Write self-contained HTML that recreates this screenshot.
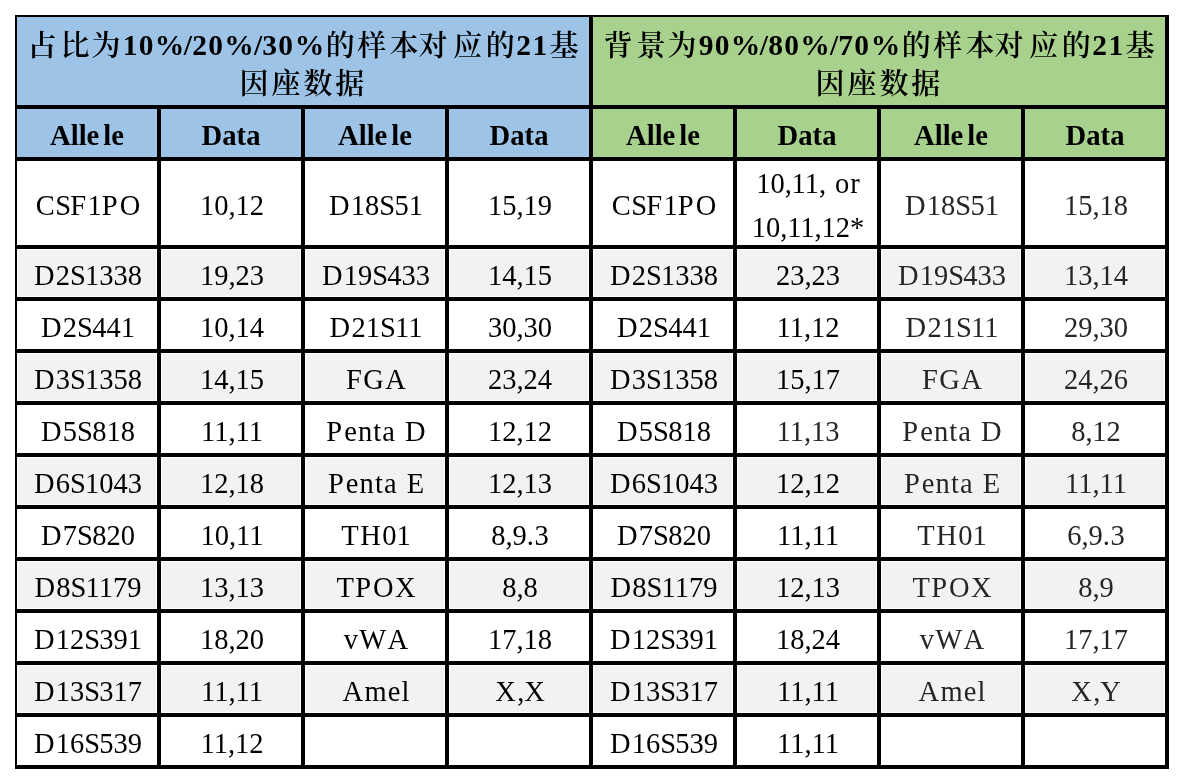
<!DOCTYPE html>
<html><head><meta charset="utf-8"><style>
*{margin:0;padding:0;box-sizing:border-box}
html,body{width:1184px;height:784px;background:#fff;overflow:hidden}
body{position:relative;font-family:"Liberation Serif","Noto Serif CJK SC",serif;color:#000}
.bg,.ln{position:absolute}
.ln{background:#000}
.tc,.tl{position:absolute;text-align:center;line-height:40px;height:40px;white-space:nowrap}
.tc{font-family:"Noto Serif CJK SC",serif;font-size:29px;font-weight:600}
.tl{font-family:"Liberation Serif",serif;font-size:29.5px;font-weight:bold}
.cell{position:absolute;display:flex;align-items:center;justify-content:center;text-align:center;font-size:28.5px;line-height:40px;white-space:pre;padding-top:6px;padding-left:2px}
i{font-style:normal}
.cell.gr{color:#262626}
.cell.two span{line-height:44px}
.hd{font-weight:bold;font-size:28.7px;padding-top:4px;padding-left:0}
.hd .g{margin-left:4px}
</style></head>
<body>
<div class="bg" style="left:17px;top:15px;width:572px;height:142px;background:#9DC3E6"></div>
<div class="bg" style="left:593px;top:15px;width:572px;height:142px;background:#A9D18E"></div>
<div class="bg" style="left:18px;top:250px;width:138px;height:46px;background:#F2F2F2"></div>
<div class="bg" style="left:162px;top:250px;width:138px;height:46px;background:#F2F2F2"></div>
<div class="bg" style="left:306px;top:250px;width:138px;height:46px;background:#F2F2F2"></div>
<div class="bg" style="left:450px;top:250px;width:138px;height:46px;background:#F2F2F2"></div>
<div class="bg" style="left:594px;top:250px;width:138px;height:46px;background:#F2F2F2"></div>
<div class="bg" style="left:738px;top:250px;width:138px;height:46px;background:#F2F2F2"></div>
<div class="bg" style="left:882px;top:250px;width:138px;height:46px;background:#F2F2F2"></div>
<div class="bg" style="left:1026px;top:250px;width:138px;height:46px;background:#F2F2F2"></div>
<div class="bg" style="left:18px;top:354px;width:138px;height:46px;background:#F2F2F2"></div>
<div class="bg" style="left:162px;top:354px;width:138px;height:46px;background:#F2F2F2"></div>
<div class="bg" style="left:306px;top:354px;width:138px;height:46px;background:#F2F2F2"></div>
<div class="bg" style="left:450px;top:354px;width:138px;height:46px;background:#F2F2F2"></div>
<div class="bg" style="left:594px;top:354px;width:138px;height:46px;background:#F2F2F2"></div>
<div class="bg" style="left:738px;top:354px;width:138px;height:46px;background:#F2F2F2"></div>
<div class="bg" style="left:882px;top:354px;width:138px;height:46px;background:#F2F2F2"></div>
<div class="bg" style="left:1026px;top:354px;width:138px;height:46px;background:#F2F2F2"></div>
<div class="bg" style="left:18px;top:458px;width:138px;height:46px;background:#F2F2F2"></div>
<div class="bg" style="left:162px;top:458px;width:138px;height:46px;background:#F2F2F2"></div>
<div class="bg" style="left:306px;top:458px;width:138px;height:46px;background:#F2F2F2"></div>
<div class="bg" style="left:450px;top:458px;width:138px;height:46px;background:#F2F2F2"></div>
<div class="bg" style="left:594px;top:458px;width:138px;height:46px;background:#F2F2F2"></div>
<div class="bg" style="left:738px;top:458px;width:138px;height:46px;background:#F2F2F2"></div>
<div class="bg" style="left:882px;top:458px;width:138px;height:46px;background:#F2F2F2"></div>
<div class="bg" style="left:1026px;top:458px;width:138px;height:46px;background:#F2F2F2"></div>
<div class="bg" style="left:18px;top:562px;width:138px;height:46px;background:#F2F2F2"></div>
<div class="bg" style="left:162px;top:562px;width:138px;height:46px;background:#F2F2F2"></div>
<div class="bg" style="left:306px;top:562px;width:138px;height:46px;background:#F2F2F2"></div>
<div class="bg" style="left:450px;top:562px;width:138px;height:46px;background:#F2F2F2"></div>
<div class="bg" style="left:594px;top:562px;width:138px;height:46px;background:#F2F2F2"></div>
<div class="bg" style="left:738px;top:562px;width:138px;height:46px;background:#F2F2F2"></div>
<div class="bg" style="left:882px;top:562px;width:138px;height:46px;background:#F2F2F2"></div>
<div class="bg" style="left:1026px;top:562px;width:138px;height:46px;background:#F2F2F2"></div>
<div class="bg" style="left:18px;top:666px;width:138px;height:46px;background:#F2F2F2"></div>
<div class="bg" style="left:162px;top:666px;width:138px;height:46px;background:#F2F2F2"></div>
<div class="bg" style="left:306px;top:666px;width:138px;height:46px;background:#F2F2F2"></div>
<div class="bg" style="left:450px;top:666px;width:138px;height:46px;background:#F2F2F2"></div>
<div class="bg" style="left:594px;top:666px;width:138px;height:46px;background:#F2F2F2"></div>
<div class="bg" style="left:738px;top:666px;width:138px;height:46px;background:#F2F2F2"></div>
<div class="bg" style="left:882px;top:666px;width:138px;height:46px;background:#F2F2F2"></div>
<div class="bg" style="left:1026px;top:666px;width:138px;height:46px;background:#F2F2F2"></div>
<div class="ln" style="left:15px;top:15px;width:1154px;height:2px"></div>
<div class="ln" style="left:15px;top:105px;width:1154px;height:4px"></div>
<div class="ln" style="left:15px;top:157px;width:1154px;height:4px"></div>
<div class="ln" style="left:15px;top:245px;width:1154px;height:4px"></div>
<div class="ln" style="left:15px;top:297px;width:1154px;height:4px"></div>
<div class="ln" style="left:15px;top:349px;width:1154px;height:4px"></div>
<div class="ln" style="left:15px;top:401px;width:1154px;height:4px"></div>
<div class="ln" style="left:15px;top:453px;width:1154px;height:4px"></div>
<div class="ln" style="left:15px;top:505px;width:1154px;height:4px"></div>
<div class="ln" style="left:15px;top:557px;width:1154px;height:4px"></div>
<div class="ln" style="left:15px;top:609px;width:1154px;height:4px"></div>
<div class="ln" style="left:15px;top:661px;width:1154px;height:4px"></div>
<div class="ln" style="left:15px;top:713px;width:1154px;height:4px"></div>
<div class="ln" style="left:15px;top:765px;width:1154px;height:4px"></div>
<div class="ln" style="left:15px;top:15px;width:2px;height:754px"></div>
<div class="ln" style="left:157px;top:105px;width:4px;height:664px"></div>
<div class="ln" style="left:301px;top:105px;width:4px;height:664px"></div>
<div class="ln" style="left:445px;top:105px;width:4px;height:664px"></div>
<div class="ln" style="left:589px;top:15px;width:4px;height:754px"></div>
<div class="ln" style="left:733px;top:105px;width:4px;height:664px"></div>
<div class="ln" style="left:877px;top:105px;width:4px;height:664px"></div>
<div class="ln" style="left:1021px;top:105px;width:4px;height:664px"></div>
<div class="ln" style="left:1165px;top:15px;width:4px;height:754px"></div>
<span class="tc" style="left:22.1px;top:24px;width:40px">占</span>
<span class="tc" style="left:55.0px;top:24px;width:40px">比</span>
<span class="tc" style="left:86.1px;top:24px;width:40px">为</span>
<span class="tl" style="left:110.1px;top:25px;width:40px">1</span>
<span class="tl" style="left:126.0px;top:25px;width:40px">0</span>
<span class="tl" style="left:149.6px;top:25px;width:40px">%</span>
<span class="tl" style="left:167.9px;top:25px;width:40px">/</span>
<span class="tl" style="left:179.7px;top:25px;width:40px">2</span>
<span class="tl" style="left:195.5px;top:25px;width:40px">0</span>
<span class="tl" style="left:219.0px;top:25px;width:40px">%</span>
<span class="tl" style="left:238.2px;top:25px;width:40px">/</span>
<span class="tl" style="left:249.7px;top:25px;width:40px">3</span>
<span class="tl" style="left:265.5px;top:25px;width:40px">0</span>
<span class="tl" style="left:289.6px;top:25px;width:40px">%</span>
<span class="tc" style="left:320.3px;top:24px;width:40px">的</span>
<span class="tc" style="left:351.7px;top:24px;width:40px">样</span>
<span class="tc" style="left:384.0px;top:24px;width:40px">本</span>
<span class="tc" style="left:413.0px;top:24px;width:40px">对</span>
<span class="tc" style="left:447.8px;top:24px;width:40px">应</span>
<span class="tc" style="left:480.2px;top:24px;width:40px">的</span>
<span class="tl" style="left:503.5px;top:25px;width:40px">2</span>
<span class="tl" style="left:519.8px;top:25px;width:40px">1</span>
<span class="tc" style="left:544.1px;top:24px;width:40px">基</span>
<span class="tc" style="left:234.0px;top:62px;width:40px">因</span>
<span class="tc" style="left:266.0px;top:62px;width:40px">座</span>
<span class="tc" style="left:298.0px;top:62px;width:40px">数</span>
<span class="tc" style="left:329.7px;top:62px;width:40px">据</span>
<span class="tc" style="left:598.1px;top:24px;width:40px">背</span>
<span class="tc" style="left:631.0px;top:24px;width:40px">景</span>
<span class="tc" style="left:662.1px;top:24px;width:40px">为</span>
<span class="tl" style="left:686.1px;top:25px;width:40px">9</span>
<span class="tl" style="left:702.0px;top:25px;width:40px">0</span>
<span class="tl" style="left:725.6px;top:25px;width:40px">%</span>
<span class="tl" style="left:743.9px;top:25px;width:40px">/</span>
<span class="tl" style="left:755.7px;top:25px;width:40px">8</span>
<span class="tl" style="left:771.5px;top:25px;width:40px">0</span>
<span class="tl" style="left:795.0px;top:25px;width:40px">%</span>
<span class="tl" style="left:814.2px;top:25px;width:40px">/</span>
<span class="tl" style="left:825.7px;top:25px;width:40px">7</span>
<span class="tl" style="left:841.5px;top:25px;width:40px">0</span>
<span class="tl" style="left:865.6px;top:25px;width:40px">%</span>
<span class="tc" style="left:896.3px;top:24px;width:40px">的</span>
<span class="tc" style="left:927.7px;top:24px;width:40px">样</span>
<span class="tc" style="left:960.0px;top:24px;width:40px">本</span>
<span class="tc" style="left:989.0px;top:24px;width:40px">对</span>
<span class="tc" style="left:1023.8px;top:24px;width:40px">应</span>
<span class="tc" style="left:1056.2px;top:24px;width:40px">的</span>
<span class="tl" style="left:1079.5px;top:25px;width:40px">2</span>
<span class="tl" style="left:1095.8px;top:25px;width:40px">1</span>
<span class="tc" style="left:1120.1px;top:24px;width:40px">基</span>
<span class="tc" style="left:810.0px;top:62px;width:40px">因</span>
<span class="tc" style="left:842.0px;top:62px;width:40px">座</span>
<span class="tc" style="left:874.0px;top:62px;width:40px">数</span>
<span class="tc" style="left:905.7px;top:62px;width:40px">据</span>
<div class="cell hd" style="left:17px;top:109px;width:140px;height:48px"><span>Alle<span class="g">l</span>e</span></div>
<div class="cell hd" style="left:161px;top:109px;width:140px;height:48px"><span>Data</span></div>
<div class="cell hd" style="left:305px;top:109px;width:140px;height:48px"><span>Alle<span class="g">l</span>e</span></div>
<div class="cell hd" style="left:449px;top:109px;width:140px;height:48px"><span>Data</span></div>
<div class="cell hd" style="left:593px;top:109px;width:140px;height:48px"><span>Alle<span class="g">l</span>e</span></div>
<div class="cell hd" style="left:737px;top:109px;width:140px;height:48px"><span>Data</span></div>
<div class="cell hd" style="left:881px;top:109px;width:140px;height:48px"><span>Alle<span class="g">l</span>e</span></div>
<div class="cell hd" style="left:1025px;top:109px;width:140px;height:48px"><span>Data</span></div>
<div class="cell" style="left:17px;top:161px;width:140px;height:84px"><span><i style="letter-spacing:0.6px">C</i><i style="letter-spacing:-0.8px">S</i><i style="letter-spacing:1.4px">F</i>1<i style="letter-spacing:2.0px">P</i>O</span></div>
<div class="cell" style="left:161px;top:161px;width:140px;height:84px"><span>10<i style="letter-spacing:-0.2px">,</i>12</span></div>
<div class="cell" style="left:305px;top:161px;width:140px;height:84px"><span><i style="letter-spacing:1.2px">D</i>18<i style="letter-spacing:-0.8px">S</i>51</span></div>
<div class="cell" style="left:449px;top:161px;width:140px;height:84px"><span>15<i style="letter-spacing:-0.2px">,</i>19</span></div>
<div class="cell" style="left:593px;top:161px;width:140px;height:84px"><span><i style="letter-spacing:0.6px">C</i><i style="letter-spacing:-0.8px">S</i><i style="letter-spacing:1.4px">F</i>1<i style="letter-spacing:2.0px">P</i>O</span></div>
<div class="cell two" style="left:737px;top:161px;width:140px;height:84px"><span>10<i style="letter-spacing:-0.2px">,</i>11<i style="letter-spacing:-0.2px">,</i><i style="letter-spacing:1.8px"> </i><i style="letter-spacing:1.1px">o</i>r<br>10<i style="letter-spacing:-0.2px">,</i>11<i style="letter-spacing:-0.2px">,</i>12*</span></div>
<div class="cell gr" style="left:881px;top:161px;width:140px;height:84px"><span><i style="letter-spacing:1.2px">D</i>18<i style="letter-spacing:-0.8px">S</i>51</span></div>
<div class="cell gr" style="left:1025px;top:161px;width:140px;height:84px"><span>15<i style="letter-spacing:-0.2px">,</i>18</span></div>
<div class="cell" style="left:17px;top:249px;width:140px;height:48px"><span><i style="letter-spacing:1.2px">D</i>2<i style="letter-spacing:-0.8px">S</i>1338</span></div>
<div class="cell" style="left:161px;top:249px;width:140px;height:48px"><span>19<i style="letter-spacing:-0.2px">,</i>23</span></div>
<div class="cell" style="left:305px;top:249px;width:140px;height:48px"><span><i style="letter-spacing:1.2px">D</i>19<i style="letter-spacing:-0.8px">S</i>433</span></div>
<div class="cell" style="left:449px;top:249px;width:140px;height:48px"><span>14<i style="letter-spacing:-0.2px">,</i>15</span></div>
<div class="cell" style="left:593px;top:249px;width:140px;height:48px"><span><i style="letter-spacing:1.2px">D</i>2<i style="letter-spacing:-0.8px">S</i>1338</span></div>
<div class="cell" style="left:737px;top:249px;width:140px;height:48px"><span>23<i style="letter-spacing:-0.2px">,</i>23</span></div>
<div class="cell gr" style="left:881px;top:249px;width:140px;height:48px"><span><i style="letter-spacing:1.2px">D</i>19<i style="letter-spacing:-0.8px">S</i>433</span></div>
<div class="cell gr" style="left:1025px;top:249px;width:140px;height:48px"><span>13<i style="letter-spacing:-0.2px">,</i>14</span></div>
<div class="cell" style="left:17px;top:301px;width:140px;height:48px"><span><i style="letter-spacing:1.2px">D</i>2<i style="letter-spacing:-0.8px">S</i>441</span></div>
<div class="cell" style="left:161px;top:301px;width:140px;height:48px"><span>10<i style="letter-spacing:-0.2px">,</i>14</span></div>
<div class="cell" style="left:305px;top:301px;width:140px;height:48px"><span><i style="letter-spacing:1.2px">D</i>21<i style="letter-spacing:-0.8px">S</i>11</span></div>
<div class="cell" style="left:449px;top:301px;width:140px;height:48px"><span>30<i style="letter-spacing:-0.2px">,</i>30</span></div>
<div class="cell" style="left:593px;top:301px;width:140px;height:48px"><span><i style="letter-spacing:1.2px">D</i>2<i style="letter-spacing:-0.8px">S</i>441</span></div>
<div class="cell" style="left:737px;top:301px;width:140px;height:48px"><span>11<i style="letter-spacing:-0.2px">,</i>12</span></div>
<div class="cell gr" style="left:881px;top:301px;width:140px;height:48px"><span><i style="letter-spacing:1.2px">D</i>21<i style="letter-spacing:-0.8px">S</i>11</span></div>
<div class="cell gr" style="left:1025px;top:301px;width:140px;height:48px"><span>29<i style="letter-spacing:-0.2px">,</i>30</span></div>
<div class="cell" style="left:17px;top:353px;width:140px;height:48px"><span><i style="letter-spacing:1.2px">D</i>3<i style="letter-spacing:-0.8px">S</i>1358</span></div>
<div class="cell" style="left:161px;top:353px;width:140px;height:48px"><span>14<i style="letter-spacing:-0.2px">,</i>15</span></div>
<div class="cell" style="left:305px;top:353px;width:140px;height:48px"><span><i style="letter-spacing:1.4px">F</i><i style="letter-spacing:1.4px">G</i>A</span></div>
<div class="cell" style="left:449px;top:353px;width:140px;height:48px"><span>23<i style="letter-spacing:-0.2px">,</i>24</span></div>
<div class="cell" style="left:593px;top:353px;width:140px;height:48px"><span><i style="letter-spacing:1.2px">D</i>3<i style="letter-spacing:-0.8px">S</i>1358</span></div>
<div class="cell" style="left:737px;top:353px;width:140px;height:48px"><span>15<i style="letter-spacing:-0.2px">,</i>17</span></div>
<div class="cell gr" style="left:881px;top:353px;width:140px;height:48px"><span><i style="letter-spacing:1.4px">F</i><i style="letter-spacing:1.4px">G</i>A</span></div>
<div class="cell gr" style="left:1025px;top:353px;width:140px;height:48px"><span>24<i style="letter-spacing:-0.2px">,</i>26</span></div>
<div class="cell" style="left:17px;top:405px;width:140px;height:48px"><span><i style="letter-spacing:1.2px">D</i>5<i style="letter-spacing:-0.8px">S</i>818</span></div>
<div class="cell" style="left:161px;top:405px;width:140px;height:48px"><span>11<i style="letter-spacing:-0.2px">,</i>11</span></div>
<div class="cell" style="left:305px;top:405px;width:140px;height:48px"><span><i style="letter-spacing:2.0px">P</i><i style="letter-spacing:1.1px">e</i><i style="letter-spacing:1.1px">n</i><i style="letter-spacing:1.1px">t</i><i style="letter-spacing:1.1px">a</i><i style="letter-spacing:1.8px"> </i>D</span></div>
<div class="cell" style="left:449px;top:405px;width:140px;height:48px"><span>12<i style="letter-spacing:-0.2px">,</i>12</span></div>
<div class="cell" style="left:593px;top:405px;width:140px;height:48px"><span><i style="letter-spacing:1.2px">D</i>5<i style="letter-spacing:-0.8px">S</i>818</span></div>
<div class="cell gr" style="left:737px;top:405px;width:140px;height:48px"><span>11<i style="letter-spacing:-0.2px">,</i>13</span></div>
<div class="cell gr" style="left:881px;top:405px;width:140px;height:48px"><span><i style="letter-spacing:2.0px">P</i><i style="letter-spacing:1.1px">e</i><i style="letter-spacing:1.1px">n</i><i style="letter-spacing:1.1px">t</i><i style="letter-spacing:1.1px">a</i><i style="letter-spacing:1.8px"> </i>D</span></div>
<div class="cell gr" style="left:1025px;top:405px;width:140px;height:48px"><span>8<i style="letter-spacing:-0.2px">,</i>12</span></div>
<div class="cell" style="left:17px;top:457px;width:140px;height:48px"><span><i style="letter-spacing:1.2px">D</i>6<i style="letter-spacing:-0.8px">S</i>1043</span></div>
<div class="cell" style="left:161px;top:457px;width:140px;height:48px"><span>12<i style="letter-spacing:-0.2px">,</i>18</span></div>
<div class="cell" style="left:305px;top:457px;width:140px;height:48px"><span><i style="letter-spacing:2.0px">P</i><i style="letter-spacing:1.1px">e</i><i style="letter-spacing:1.1px">n</i><i style="letter-spacing:1.1px">t</i><i style="letter-spacing:1.1px">a</i><i style="letter-spacing:1.8px"> </i>E</span></div>
<div class="cell" style="left:449px;top:457px;width:140px;height:48px"><span>12<i style="letter-spacing:-0.2px">,</i>13</span></div>
<div class="cell" style="left:593px;top:457px;width:140px;height:48px"><span><i style="letter-spacing:1.2px">D</i>6<i style="letter-spacing:-0.8px">S</i>1043</span></div>
<div class="cell" style="left:737px;top:457px;width:140px;height:48px"><span>12<i style="letter-spacing:-0.2px">,</i>12</span></div>
<div class="cell gr" style="left:881px;top:457px;width:140px;height:48px"><span><i style="letter-spacing:2.0px">P</i><i style="letter-spacing:1.1px">e</i><i style="letter-spacing:1.1px">n</i><i style="letter-spacing:1.1px">t</i><i style="letter-spacing:1.1px">a</i><i style="letter-spacing:1.8px"> </i>E</span></div>
<div class="cell gr" style="left:1025px;top:457px;width:140px;height:48px"><span>11<i style="letter-spacing:-0.2px">,</i>11</span></div>
<div class="cell" style="left:17px;top:509px;width:140px;height:48px"><span><i style="letter-spacing:1.2px">D</i>7<i style="letter-spacing:-0.8px">S</i>820</span></div>
<div class="cell" style="left:161px;top:509px;width:140px;height:48px"><span>10<i style="letter-spacing:-0.2px">,</i>11</span></div>
<div class="cell" style="left:305px;top:509px;width:140px;height:48px"><span><i style="letter-spacing:1.4px">T</i><i style="letter-spacing:1.4px">H</i>01</span></div>
<div class="cell" style="left:449px;top:509px;width:140px;height:48px"><span>8<i style="letter-spacing:-0.2px">,</i>9<i style="letter-spacing:0.5px">.</i>3</span></div>
<div class="cell" style="left:593px;top:509px;width:140px;height:48px"><span><i style="letter-spacing:1.2px">D</i>7<i style="letter-spacing:-0.8px">S</i>820</span></div>
<div class="cell" style="left:737px;top:509px;width:140px;height:48px"><span>11<i style="letter-spacing:-0.2px">,</i>11</span></div>
<div class="cell gr" style="left:881px;top:509px;width:140px;height:48px"><span><i style="letter-spacing:1.4px">T</i><i style="letter-spacing:1.4px">H</i>01</span></div>
<div class="cell gr" style="left:1025px;top:509px;width:140px;height:48px"><span>6<i style="letter-spacing:-0.2px">,</i>9<i style="letter-spacing:0.5px">.</i>3</span></div>
<div class="cell" style="left:17px;top:561px;width:140px;height:48px"><span><i style="letter-spacing:1.2px">D</i>8<i style="letter-spacing:-0.8px">S</i>1179</span></div>
<div class="cell" style="left:161px;top:561px;width:140px;height:48px"><span>13<i style="letter-spacing:-0.2px">,</i>13</span></div>
<div class="cell" style="left:305px;top:561px;width:140px;height:48px"><span><i style="letter-spacing:1.4px">T</i><i style="letter-spacing:2.0px">P</i><i style="letter-spacing:1.4px">O</i>X</span></div>
<div class="cell" style="left:449px;top:561px;width:140px;height:48px"><span>8<i style="letter-spacing:-0.2px">,</i>8</span></div>
<div class="cell" style="left:593px;top:561px;width:140px;height:48px"><span><i style="letter-spacing:1.2px">D</i>8<i style="letter-spacing:-0.8px">S</i>1179</span></div>
<div class="cell" style="left:737px;top:561px;width:140px;height:48px"><span>12<i style="letter-spacing:-0.2px">,</i>13</span></div>
<div class="cell gr" style="left:881px;top:561px;width:140px;height:48px"><span><i style="letter-spacing:1.4px">T</i><i style="letter-spacing:2.0px">P</i><i style="letter-spacing:1.4px">O</i>X</span></div>
<div class="cell gr" style="left:1025px;top:561px;width:140px;height:48px"><span>8<i style="letter-spacing:-0.2px">,</i>9</span></div>
<div class="cell" style="left:17px;top:613px;width:140px;height:48px"><span><i style="letter-spacing:1.2px">D</i>12<i style="letter-spacing:-0.8px">S</i>391</span></div>
<div class="cell" style="left:161px;top:613px;width:140px;height:48px"><span>18<i style="letter-spacing:-0.2px">,</i>20</span></div>
<div class="cell" style="left:305px;top:613px;width:140px;height:48px"><span><i style="letter-spacing:1.1px">v</i><i style="letter-spacing:1.4px">W</i>A</span></div>
<div class="cell" style="left:449px;top:613px;width:140px;height:48px"><span>17<i style="letter-spacing:-0.2px">,</i>18</span></div>
<div class="cell" style="left:593px;top:613px;width:140px;height:48px"><span><i style="letter-spacing:1.2px">D</i>12<i style="letter-spacing:-0.8px">S</i>391</span></div>
<div class="cell" style="left:737px;top:613px;width:140px;height:48px"><span>18<i style="letter-spacing:-0.2px">,</i>24</span></div>
<div class="cell gr" style="left:881px;top:613px;width:140px;height:48px"><span><i style="letter-spacing:1.1px">v</i><i style="letter-spacing:1.4px">W</i>A</span></div>
<div class="cell gr" style="left:1025px;top:613px;width:140px;height:48px"><span>17<i style="letter-spacing:-0.2px">,</i>17</span></div>
<div class="cell" style="left:17px;top:665px;width:140px;height:48px"><span><i style="letter-spacing:1.2px">D</i>13<i style="letter-spacing:-0.8px">S</i>317</span></div>
<div class="cell" style="left:161px;top:665px;width:140px;height:48px"><span>11<i style="letter-spacing:-0.2px">,</i>11</span></div>
<div class="cell" style="left:305px;top:665px;width:140px;height:48px"><span><i style="letter-spacing:1.4px">A</i><i style="letter-spacing:1.1px">m</i><i style="letter-spacing:1.1px">e</i>l</span></div>
<div class="cell" style="left:449px;top:665px;width:140px;height:48px"><span><i style="letter-spacing:1.4px">X</i><i style="letter-spacing:-0.2px">,</i>X</span></div>
<div class="cell" style="left:593px;top:665px;width:140px;height:48px"><span><i style="letter-spacing:1.2px">D</i>13<i style="letter-spacing:-0.8px">S</i>317</span></div>
<div class="cell" style="left:737px;top:665px;width:140px;height:48px"><span>11<i style="letter-spacing:-0.2px">,</i>11</span></div>
<div class="cell gr" style="left:881px;top:665px;width:140px;height:48px"><span><i style="letter-spacing:1.4px">A</i><i style="letter-spacing:1.1px">m</i><i style="letter-spacing:1.1px">e</i>l</span></div>
<div class="cell gr" style="left:1025px;top:665px;width:140px;height:48px"><span><i style="letter-spacing:1.4px">X</i><i style="letter-spacing:-0.2px">,</i>Y</span></div>
<div class="cell" style="left:17px;top:717px;width:140px;height:48px"><span><i style="letter-spacing:1.2px">D</i>16<i style="letter-spacing:-0.8px">S</i>539</span></div>
<div class="cell" style="left:161px;top:717px;width:140px;height:48px"><span>11<i style="letter-spacing:-0.2px">,</i>12</span></div>
<div class="cell" style="left:593px;top:717px;width:140px;height:48px"><span><i style="letter-spacing:1.2px">D</i>16<i style="letter-spacing:-0.8px">S</i>539</span></div>
<div class="cell" style="left:737px;top:717px;width:140px;height:48px"><span>11<i style="letter-spacing:-0.2px">,</i>11</span></div>
</body></html>
